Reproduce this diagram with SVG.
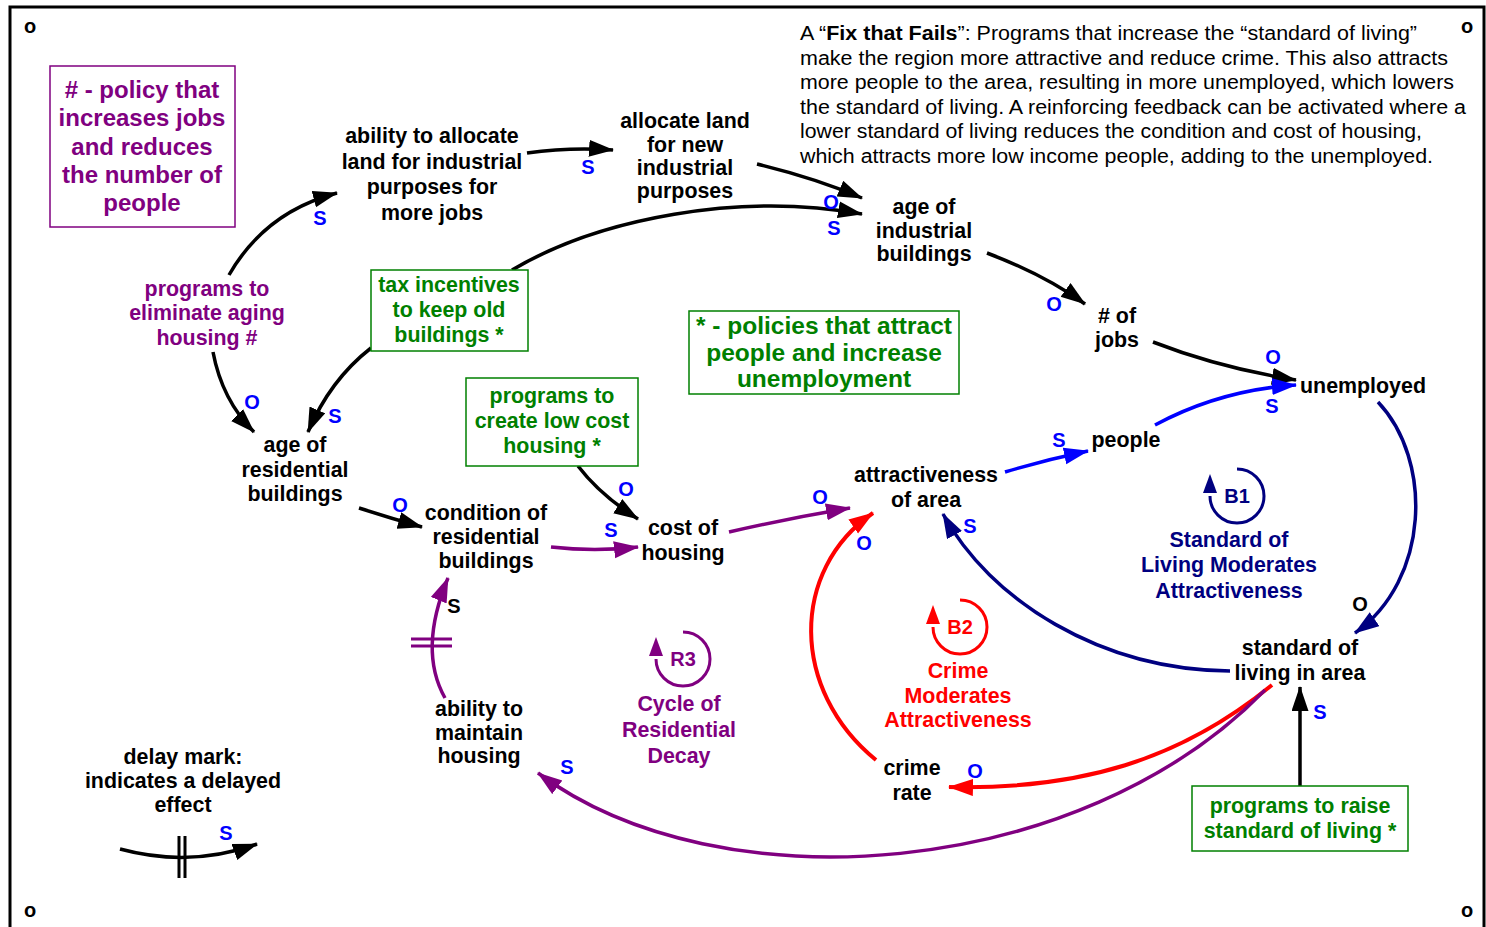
<svg xmlns="http://www.w3.org/2000/svg" width="1486" height="927" viewBox="0 0 1486 927">
<style>
text{font-family:"Liberation Sans",Arial,sans-serif;font-weight:bold;text-anchor:middle}
.n{font-size:21.4px;fill:#000}
.pu{fill:#800080}
.gr{fill:#008000}
.nv{fill:#000080}
.rd{fill:#FF0000}
.pol{font-size:20px;fill:#0000FF}
.polk{font-size:20px;fill:#000}
.c{fill:none;stroke-width:3.5}
.k{stroke:#000}
.b{stroke:#0000FF}
.v{stroke:#000080}
.r{stroke:#FF0000;stroke-width:4}
.p{stroke:#800080}
.gbox{fill:#fff;stroke:#008000;stroke-width:1.5}
.para{font-weight:normal;font-size:20px;text-anchor:start;fill:#000}
.corner{font-size:20px;fill:#000}
.loop{fill:none;stroke-width:3}
</style>
<defs>
<marker id="ak" markerUnits="userSpaceOnUse" markerWidth="26" markerHeight="18" refX="24" refY="8.5" orient="auto"><path d="M0,0 L25,8.5 L0,17 z" fill="#000"/></marker>
<marker id="ab" markerUnits="userSpaceOnUse" markerWidth="26" markerHeight="18" refX="24" refY="8.5" orient="auto"><path d="M0,0 L25,8.5 L0,17 z" fill="#0000FF"/></marker>
<marker id="av" markerUnits="userSpaceOnUse" markerWidth="26" markerHeight="18" refX="24" refY="8.5" orient="auto"><path d="M0,0 L25,8.5 L0,17 z" fill="#000080"/></marker>
<marker id="ar" markerUnits="userSpaceOnUse" markerWidth="26" markerHeight="18" refX="24" refY="8.5" orient="auto"><path d="M0,0 L25,8.5 L0,17 z" fill="#FF0000"/></marker>
<marker id="ap" markerUnits="userSpaceOnUse" markerWidth="26" markerHeight="18" refX="24" refY="8.5" orient="auto"><path d="M0,0 L25,8.5 L0,17 z" fill="#800080"/></marker>
</defs>
<rect x="0" y="0" width="1486" height="927" fill="#fff"/>
<rect x="10" y="7" width="1474" height="940" fill="none" stroke="#000" stroke-width="3"/>
<g id="corners">
<text class="corner" x="30" y="33">o</text>
<text class="corner" x="1467" y="33">o</text>
<text class="corner" x="30" y="917">o</text>
<text class="corner" x="1467" y="917">o</text>
</g>
<g id="description">
<text class="para" x="800" y="40" textLength="617" lengthAdjust="spacingAndGlyphs">A “<tspan font-weight="bold">Fix that Fails</tspan>”: Programs that increase the “standard of living”</text>
<text class="para" x="800" y="64.6" textLength="648" lengthAdjust="spacingAndGlyphs">make the region more attractive and reduce crime. This also attracts</text>
<text class="para" x="800" y="89.2" textLength="654" lengthAdjust="spacingAndGlyphs">more people to the area, resulting in more unemployed, which lowers</text>
<text class="para" x="800" y="113.8" textLength="666" lengthAdjust="spacingAndGlyphs">the standard of living. A reinforcing feedback can be activated where a</text>
<text class="para" x="800" y="138.4" textLength="622" lengthAdjust="spacingAndGlyphs">lower standard of living reduces the condition and cost of housing,</text>
<text class="para" x="800" y="163" textLength="633" lengthAdjust="spacingAndGlyphs">which attracts more low income people, adding to the unemployed.</text>
</g>
<g id="connectors">
<path class="c k" d="M229,275 Q265,212 337,193" marker-end="url(#ak)"/>
<path class="c k" d="M527,153 Q570,147 613,150" marker-end="url(#ak)"/>
<path class="c k" d="M757,164 Q815,178 862,198" marker-end="url(#ak)"/>
<path class="c k" d="M512,270 C600,218 740,192 862,214" marker-end="url(#ak)"/>
<path class="c k" d="M371,348 Q330,380 308,432" marker-end="url(#ak)"/>
<path class="c k" d="M213,352 Q222,400 254,432" marker-end="url(#ak)"/>
<path class="c k" d="M987,253 Q1045,275 1085,304" marker-end="url(#ak)"/>
<path class="c k" d="M1153,342 Q1220,368 1296,380" marker-end="url(#ak)"/>
<path class="c b" d="M1155,425 Q1220,390 1296,385" marker-end="url(#ab)"/>
<path class="c b" d="M1005,472 Q1045,460 1088,451" marker-end="url(#ab)"/>
<path class="c v" d="M1378,402 C1433,460 1430,580 1355,633" marker-end="url(#av)"/>
<path class="c v" d="M1230,671 C1100,670 990,600 943,514" marker-end="url(#av)"/>
<path class="c r" d="M1272,685 C1180,760 1080,790 949,787" marker-end="url(#ar)"/>
<path class="c p" d="M1265,690 C1080,880 720,908 538,773" marker-end="url(#ap)"/>
<path class="c r" d="M876,760 C790,690 790,570 873,513" marker-end="url(#ar)"/>
<path class="c p" d="M729,532 Q790,518 850,508" marker-end="url(#ap)"/>
<path class="c p" d="M551,547 Q595,552 638,547" marker-end="url(#ap)"/>
<path class="c k" d="M578,466 Q600,495 638,519" marker-end="url(#ak)"/>
<path class="c k" d="M359,508 Q390,518 422,527" marker-end="url(#ak)"/>
<path class="c p" d="M445,698 Q418,650 448,578" marker-end="url(#ap)"/>
<path d="M411,639 H452 M411,646 H452" stroke="#800080" stroke-width="3"/>
<path class="c k" d="M1300,786 L1300,687" marker-end="url(#ak)"/>
<path class="c k" d="M120,849 Q190,868 257,844" marker-end="url(#ak)"/>
<path d="M179,836 V878 M185,836 V878" stroke="#000" stroke-width="3"/>
</g>
<g id="polarities">
<text class="pol" x="320" y="225">S</text>
<text class="pol" x="588" y="174">S</text>
<text class="pol" x="831" y="209">O</text>
<text class="pol" x="834" y="235">S</text>
<text class="pol" x="1054" y="311">O</text>
<text class="pol" x="1273" y="364">O</text>
<text class="pol" x="1272" y="413">S</text>
<text class="pol" x="1059" y="447">S</text>
<text class="pol" x="252" y="409">O</text>
<text class="pol" x="335" y="423">S</text>
<text class="pol" x="400" y="512">O</text>
<text class="pol" x="626" y="496">O</text>
<text class="pol" x="611" y="537">S</text>
<text class="pol" x="820" y="504">O</text>
<text class="pol" x="864" y="550">O</text>
<text class="pol" x="970" y="533">S</text>
<text class="polk" x="1360" y="611">O</text>
<text class="pol" x="1320" y="719">S</text>
<text class="polk" x="454" y="613">S</text>
<text class="pol" x="567" y="774">S</text>
<text class="pol" x="975" y="778">O</text>
<text class="pol" x="226" y="840">S</text>
</g>
<g id="legend-policy-jobs">
<rect x="50" y="66" width="185" height="161" fill="#fff" stroke="#800080" stroke-width="1.5"/>
<text class="pu" font-size="24" x="142" y="97.5"># - policy that</text>
<text class="pu" font-size="24" x="142" y="126">increases jobs</text>
<text class="pu" font-size="24" x="142" y="154.5">and reduces</text>
<text class="pu" font-size="24" x="142" y="183">the number of</text>
<text class="pu" font-size="24" x="142" y="211">people</text>
</g>
<g id="node-ability-allocate">
<text class="n" x="432" y="143">ability to allocate</text>
<text class="n" x="432" y="168.7">land for industrial</text>
<text class="n" x="432" y="194.3">purposes for</text>
<text class="n" x="432" y="220">more jobs</text>
</g>
<g id="node-allocate-land">
<text class="n" x="685" y="128">allocate land</text>
<text class="n" x="685" y="151.5">for new</text>
<text class="n" x="685" y="175">industrial</text>
<text class="n" x="685" y="198">purposes</text>
</g>
<g id="node-age-industrial">
<text class="n" x="924" y="214">age of</text>
<text class="n" x="924" y="238">industrial</text>
<text class="n" x="924" y="261">buildings</text>
</g>
<g id="node-jobs">
<text class="n" x="1117" y="323"># of</text>
<text class="n" x="1117" y="347">jobs</text>
</g>
<g id="node-unemployed">
<text class="n" x="1363" y="393">unemployed</text>
</g>
<g id="node-people">
<text class="n" x="1126" y="447">people</text>
</g>
<g id="node-attractiveness">
<text class="n" x="926" y="482">attractiveness</text>
<text class="n" x="926" y="507">of area</text>
</g>
<g id="node-cost-housing">
<text class="n" x="683" y="535">cost of</text>
<text class="n" x="683" y="560">housing</text>
</g>
<g id="node-condition">
<text class="n" x="486" y="520">condition of</text>
<text class="n" x="486" y="544">residential</text>
<text class="n" x="486" y="568">buildings</text>
</g>
<g id="node-age-residential">
<text class="n" x="295" y="452">age of</text>
<text class="n" x="295" y="476.5">residential</text>
<text class="n" x="295" y="501">buildings</text>
</g>
<g id="node-programs-eliminate">
<text class="n pu" x="207" y="296">programs to</text>
<text class="n pu" x="207" y="320">eliminate aging</text>
<text class="n pu" x="207" y="345">housing #</text>
</g>
<g id="node-ability-maintain">
<text class="n" x="479" y="716">ability to</text>
<text class="n" x="479" y="740">maintain</text>
<text class="n" x="479" y="763">housing</text>
</g>
<g id="legend-delay">
<text class="n" x="183" y="764">delay mark:</text>
<text class="n" x="183" y="788">indicates a delayed</text>
<text class="n" x="183" y="812">effect</text>
</g>
<g id="node-crime">
<text class="n" x="912" y="775">crime</text>
<text class="n" x="912" y="800">rate</text>
</g>
<g id="node-standard">
<text class="n" x="1300" y="655">standard of</text>
<text class="n" x="1300" y="680">living in area</text>
</g>
<g id="node-tax-incentives">
<rect class="gbox" x="371" y="270" width="157" height="81"/>
<text class="n gr" x="449" y="292">tax incentives</text>
<text class="n gr" x="449" y="317">to keep old</text>
<text class="n gr" x="449" y="342">buildings *</text>
</g>
<g id="node-low-cost">
<rect class="gbox" x="466" y="378" width="172" height="88"/>
<text class="n gr" x="552" y="403">programs to</text>
<text class="n gr" x="552" y="428">create low cost</text>
<text class="n gr" x="552" y="453">housing *</text>
</g>
<g id="legend-policies-attract">
<rect class="gbox" x="689" y="311" width="270" height="83"/>
<text class="gr" font-size="24.5" x="824" y="334">* - policies that attract</text>
<text class="gr" font-size="24.5" x="824" y="361">people and increase</text>
<text class="gr" font-size="24.5" x="824" y="387">unemployment</text>
</g>
<g id="node-raise-standard">
<rect class="gbox" x="1192" y="786" width="216" height="65"/>
<text class="n gr" x="1300" y="813">programs to raise</text>
<text class="n gr" x="1300" y="838">standard of living *</text>
</g>
<g id="loop-B1">
<path class="loop" stroke="#000080" d="M1237,469 A27,27 0 1 1 1210,496"/>
<polygon points="1203,493 1217,493 1210,474" fill="#000080"/>
<text class="nv" font-size="20" x="1237" y="503">B1</text>
<text class="n nv" x="1229" y="547">Standard of</text>
<text class="n nv" x="1229" y="572">Living Moderates</text>
<text class="n nv" x="1229" y="598">Attractiveness</text>
</g>
<g id="loop-B2">
<path class="loop" stroke="#FF0000" d="M960,600 A27,27 0 1 1 933,627"/>
<polygon points="926,624 940,624 933,605" fill="#FF0000"/>
<text class="rd" font-size="20" x="960" y="634">B2</text>
<text class="n rd" x="958" y="678">Crime</text>
<text class="n rd" x="958" y="703">Moderates</text>
<text class="n rd" x="958" y="727">Attractiveness</text>
</g>
<g id="loop-R3">
<path class="loop" stroke="#800080" d="M683,632 A27,27 0 1 1 656,659"/>
<polygon points="649,656 663,656 656,637" fill="#800080"/>
<text class="pu" font-size="20" x="683" y="666">R3</text>
<text class="n pu" x="679" y="711">Cycle of</text>
<text class="n pu" x="679" y="737">Residential</text>
<text class="n pu" x="679" y="763">Decay</text>
</g>
</svg>
